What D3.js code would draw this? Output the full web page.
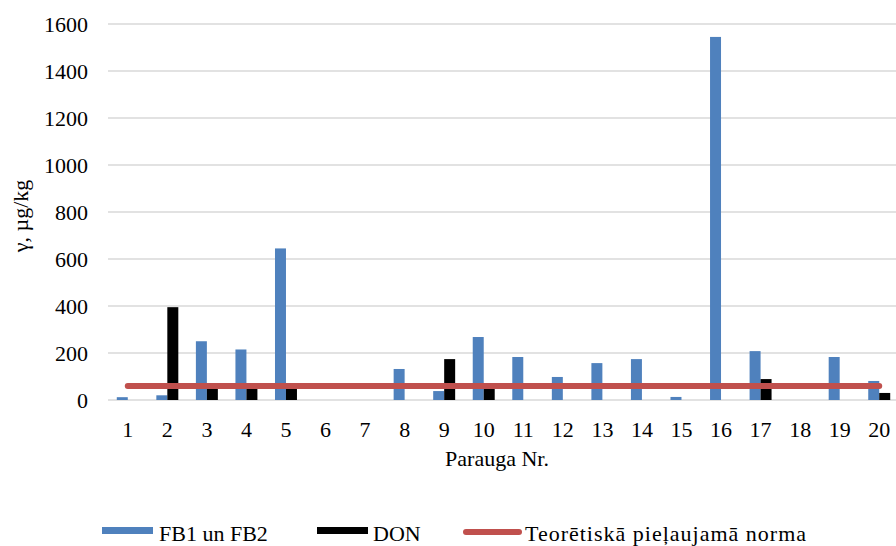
<!DOCTYPE html>
<html>
<head>
<meta charset="utf-8">
<script src="https://cdn.jsdelivr.net/npm/d3@7/dist/d3.min.js"></script>
<style>
  html, body { margin: 0; padding: 0; background: #fff; }
  svg { display: block; }
</style>
</head>
<body>
<svg id="chart" width="896" height="546"></svg>
<script>
// Sample numbers (Parauga Nr.)
const categories = ["1","2","3","4","5","6","7","8","9","10","11","12","13","14","15","16","17","18","19","20"];
// FB1 un FB2, µg/kg
const fbValues = [12, 20, 250, 215, 645, 0, 0, 132, 38, 268, 183, 98, 157, 174, 13, 1545, 208, 0, 183, 81];
// DON, µg/kg
const donValues = [0, 395, 55, 55, 55, 0, 0, 0, 174, 55, 0, 0, 0, 0, 0, 0, 89, 0, 0, 30];
// Theoretical permissible limit, µg/kg
const normValue = 60;
const normValues = categories.map(() => normValue);
const yTicks = [0, 200, 400, 600, 800, 1000, 1200, 1400, 1600];

const seriesNames = ["FB1 un FB2", "DON", "Teorētiskā pieļaujamā norma"];
const colors = { fb: "#4f81bd", don: "#000000", norm: "#c0504d" };

const FONT = '"Liberation Serif"';
const fontSize = 22;

const svg = d3.select("#chart");
const plot = { left: 108, right: 899, top: 24, bottom: 400 };

const x = d3.scaleBand().domain(categories).range([plot.left, plot.right]).paddingInner(0).paddingOuter(0);
const groupW = x.bandwidth() / 1.8;
const x1 = d3.scaleBand().domain(["fb", "don"]).range([0, groupW]);
const y = d3.scaleLinear().domain([0, 1600]).range([plot.bottom, plot.top]);

function styleText(sel) {
  return sel.style("font-family", FONT).attr("font-size", fontSize).attr("fill", "#000");
}

// gridlines
svg.append("g")
  .selectAll("line").data(yTicks).join("line")
  .attr("x1", plot.left).attr("x2", 896)
  .attr("y1", d => y(d)).attr("y2", d => y(d))
  .attr("stroke", "#d9d9d9").attr("stroke-width", 1.5);

// y axis labels
const yAxis = d3.axisLeft(y).tickValues(yTicks).tickSize(0).tickPadding(0).tickFormat(d3.format("d"));
const yg = svg.append("g").attr("transform", `translate(88,0)`).call(yAxis);
yg.attr("font-family", null).attr("font-size", null);
yg.select(".domain").remove();
styleText(yg.selectAll("text"))
  .attr("x", 0).attr("dy", "0.33em");

// x axis labels
const xAxis = d3.axisBottom(x).tickSize(0).tickPadding(0);
const xg = svg.append("g").attr("transform", `translate(0,${plot.bottom})`).call(xAxis);
xg.attr("font-family", null).attr("font-size", null);
xg.select(".domain").remove();
styleText(xg.selectAll("text"))
  .attr("y", 37).attr("dy", 0);

// bars
const groups = svg.append("g").selectAll("g").data(categories).join("g")
  .attr("transform", d => `translate(${x(d) + (x.bandwidth() - groupW) / 2},0)`);
groups.append("rect")
  .attr("x", x1("fb")).attr("width", x1.bandwidth())
  .attr("y", (d, i) => y(fbValues[i])).attr("height", (d, i) => y(0) - y(fbValues[i]))
  .attr("fill", colors.fb);
groups.append("rect")
  .attr("x", x1("don")).attr("width", x1.bandwidth())
  .attr("y", (d, i) => y(donValues[i])).attr("height", (d, i) => y(0) - y(donValues[i]))
  .attr("fill", colors.don);

// limit line
const line = d3.line()
  .x((d, i) => x(categories[i]) + x.bandwidth() / 2)
  .y(d => y(d));
svg.append("path").datum(normValues)
  .attr("d", line).attr("fill", "none")
  .attr("stroke", colors.norm).attr("stroke-width", 6).attr("stroke-linecap", "round");

// axis titles
styleText(svg.append("text"))
  .attr("x", 497).attr("y", 466)
  .attr("text-anchor", "middle")
  .text("Parauga Nr.");
styleText(svg.append("text"))
  .attr("transform", `translate(28,216) rotate(-90)`)
  .attr("text-anchor", "middle")
  .text("γ, µg/kg");

// legend
const legendY = 541;
const leg = svg.append("g");
leg.append("rect").attr("x", 102).attr("y", 527).attr("width", 51).attr("height", 7).attr("fill", colors.fb);
styleText(leg.append("text")).attr("x", 159).attr("y", legendY).text(seriesNames[0]);
leg.append("rect").attr("x", 317).attr("y", 527).attr("width", 51).attr("height", 7).attr("fill", colors.don);
styleText(leg.append("text")).attr("x", 373).attr("y", legendY).text(seriesNames[1]);
leg.append("line").attr("x1", 466).attr("x2", 519).attr("y1", 532).attr("y2", 532)
  .attr("stroke", colors.norm).attr("stroke-width", 6).attr("stroke-linecap", "round");
styleText(leg.append("text")).attr("x", 525).attr("y", legendY).attr("letter-spacing", 1).text(seriesNames[2]);
</script>
</body>
</html>
